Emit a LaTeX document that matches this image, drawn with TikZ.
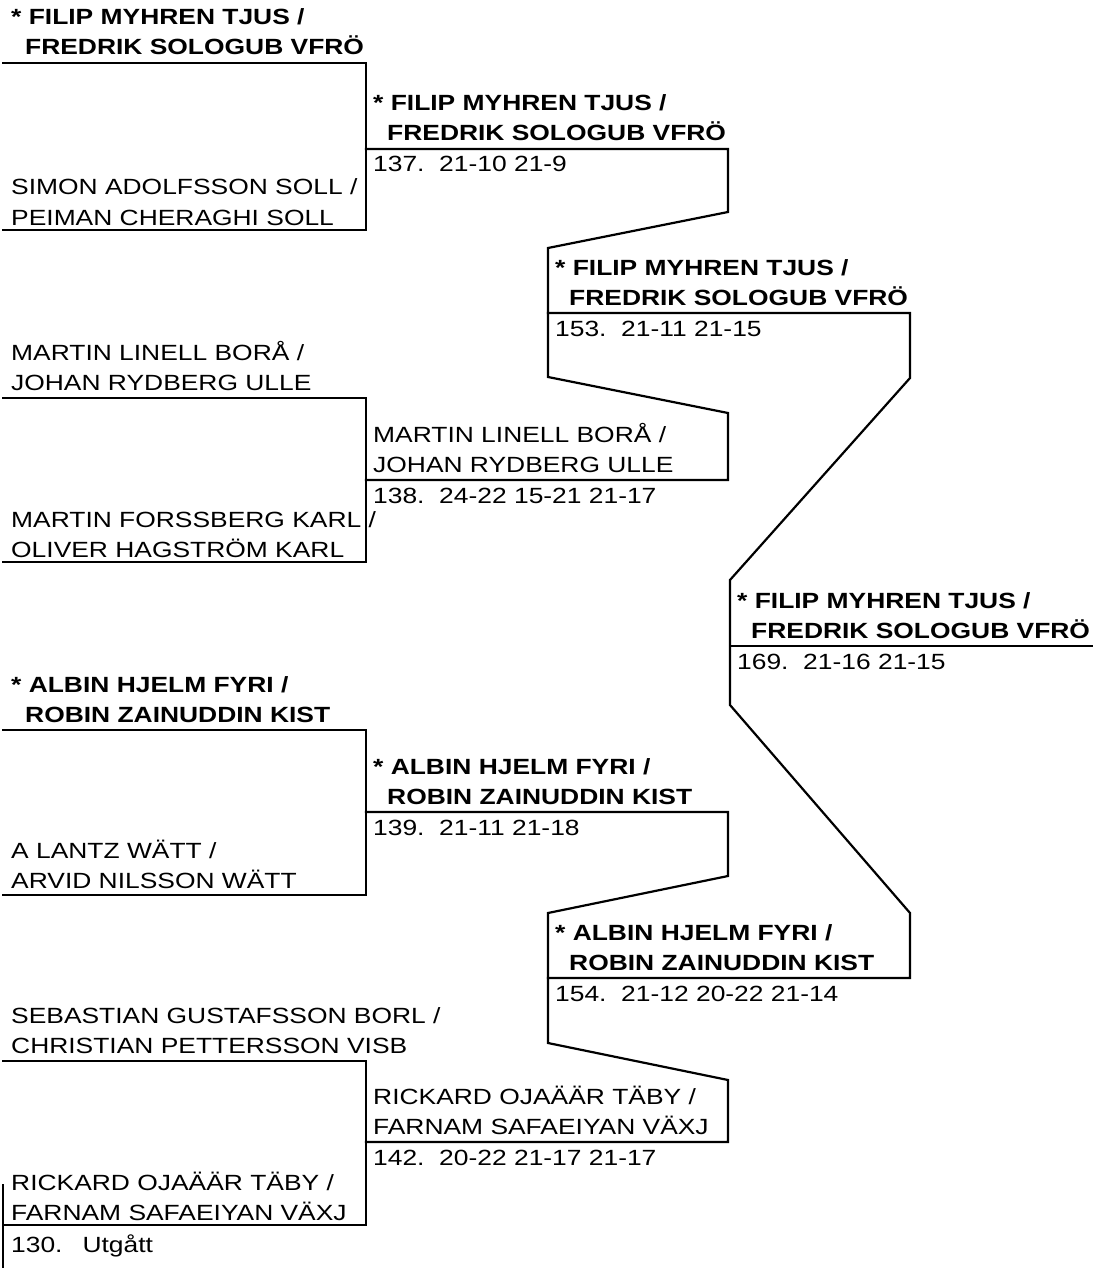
\documentclass[tikz,border=0pt]{standalone}
\usepackage{fontspec}
\setmainfont{Liberation Sans}[FakeStretch=1.2]
\begin{document}
\begin{tikzpicture}[x=1pt,y=-1pt,
  entry/.style={anchor=base west,inner sep=0pt,align=left,font=\fontsize{22}{30}\selectfont},
  winner/.style={entry,font=\fontsize{22}{30}\selectfont\bfseries},
  score/.style={entry},
  bracket/.style={line width=2.2pt,line join=miter,line cap=rect}]
\useasboundingbox (0,0) rectangle (1110,1268);

% ---------- round 1 ----------
\coordinate (p1) at (3,63);   \coordinate (q1) at (366,63);
\coordinate (p2) at (3,230);  \coordinate (q2) at (366,230);
\coordinate (p3) at (3,398);  \coordinate (q3) at (366,398);
\coordinate (p4) at (3,562);  \coordinate (q4) at (366,562);
\coordinate (p5) at (3,730);  \coordinate (q5) at (366,730);
\coordinate (p6) at (3,895);  \coordinate (q6) at (366,895);
\coordinate (p7) at (3,1061); \coordinate (q7) at (366,1061);
\coordinate (p8) at (3,1225); \coordinate (q8) at (366,1225);
\coordinate (z1) at (3,1185); \coordinate (z2) at (3,1268);

\draw[bracket] (p1) -- (q1) -- (q2) -- (p2);
\draw[bracket] (p3) -- (q3) -- (q4) -- (p4);
\draw[bracket] (p5) -- (q5) -- (q6) -- (p6);
\draw[bracket] (p7) -- (q7) -- (q8) -- (p8);
\draw[bracket] (z1) -- (z2);

% ---------- round 2 ----------
\coordinate (m1a) at (366,149);  \coordinate (m1b) at (728,149);
\coordinate (m2a) at (366,480);  \coordinate (m2b) at (728,480);
\coordinate (m3a) at (366,812);  \coordinate (m3b) at (728,812);
\coordinate (m4a) at (366,1142); \coordinate (m4b) at (728,1142);
\coordinate (k1) at (728,212); \coordinate (k2) at (548,248);
\coordinate (k3) at (548,377); \coordinate (k4) at (728,413);
\coordinate (k5) at (728,876); \coordinate (k6) at (548,913);
\coordinate (k7) at (548,1043); \coordinate (k8) at (728,1080);

\draw[bracket] (m1a) -- (m1b) -- (k1) -- (k2) -- (k3) -- (k4) -- (m2b) -- (m2a);
\draw[bracket] (m3a) -- (m3b) -- (k5) -- (k6) -- (k7) -- (k8) -- (m4b) -- (m4a);

% ---------- round 3 ----------
\coordinate (n1a) at (548,313); \coordinate (n1b) at (910,313);
\coordinate (n2a) at (548,978); \coordinate (n2b) at (910,978);
\coordinate (h1) at (910,378); \coordinate (h2) at (730,580);
\coordinate (h3) at (730,705); \coordinate (h4) at (910,913);
\draw[bracket] (n1a) -- (n1b) -- (h1) -- (h2) -- (h3) -- (h4) -- (n2b) -- (n2a);

% ---------- round 4 ----------
\coordinate (o1a) at (730,646); \coordinate (o1b) at (1092,646);
\draw[bracket] (o1a) -- (o1b);

% ---------- texts round 1 (y = baseline of last line) ----------
\node[winner] (t1) at (11,55) {* FILIP MYHREN TJUS /\\\hspace*{14pt}FREDRIK SOLOGUB VFRÖ};
\node[entry] (t2) at (11,225) {SIMON ADOLFSSON SOLL /\\PEIMAN CHERAGHI SOLL};
\node[entry] (t3) at (11,390) {MARTIN LINELL BORÅ /\\JOHAN RYDBERG ULLE};
\node[entry] (t4) at (11,557) {MARTIN FORSSBERG KARL /\\OLIVER HAGSTRÖM KARL};
\node[winner] (t5) at (11,722) {* ALBIN HJELM FYRI /\\\hspace*{14pt}ROBIN ZAINUDDIN KIST};
\node[entry] (t6) at (11,888) {A LANTZ WÄTT /\\ARVID NILSSON WÄTT};
\node[entry] (t7) at (11,1053) {SEBASTIAN GUSTAFSSON BORL /\\CHRISTIAN PETTERSSON VISB};
\node[entry] (t8) at (11,1220) {RICKARD OJAÄÄR TÄBY /\\FARNAM SAFAEIYAN VÄXJ};
\node[score] (s0) at (11,1252) {130.\hspace{20pt}Utgått};

% ---------- texts round 2 ----------
\node[winner] (u1) at (373,141) {* FILIP MYHREN TJUS /\\\hspace*{14pt}FREDRIK SOLOGUB VFRÖ};
\node[score] (v1) at (373,172) {137.\ \ 21-10 21-9};
\node[entry] (u2) at (373,472) {MARTIN LINELL BORÅ /\\JOHAN RYDBERG ULLE};
\node[score] (v2) at (373,503) {138.\ \ 24-22 15-21 21-17};
\node[winner] (u3) at (373,804) {* ALBIN HJELM FYRI /\\\hspace*{14pt}ROBIN ZAINUDDIN KIST};
\node[score] (v3) at (373,835) {139.\ \ 21-11 21-18};
\node[entry] (u4) at (373,1134) {RICKARD OJAÄÄR TÄBY /\\FARNAM SAFAEIYAN VÄXJ};
\node[score] (v4) at (373,1165) {142.\ \ 20-22 21-17 21-17};

% ---------- texts round 3 ----------
\node[winner] (w1) at (555,305) {* FILIP MYHREN TJUS /\\\hspace*{14pt}FREDRIK SOLOGUB VFRÖ};
\node[score] (y1) at (555,336) {153.\ \ 21-11 21-15};
\node[winner] (w2) at (555,970) {* ALBIN HJELM FYRI /\\\hspace*{14pt}ROBIN ZAINUDDIN KIST};
\node[score] (y2) at (555,1001) {154.\ \ 21-12 20-22 21-14};

% ---------- texts round 4 ----------
\node[winner] (x1) at (737,638) {* FILIP MYHREN TJUS /\\\hspace*{14pt}FREDRIK SOLOGUB VFRÖ};
\node[score] (x2) at (737,669) {169.\ \ 21-16 21-15};
\end{tikzpicture}
\end{document}
